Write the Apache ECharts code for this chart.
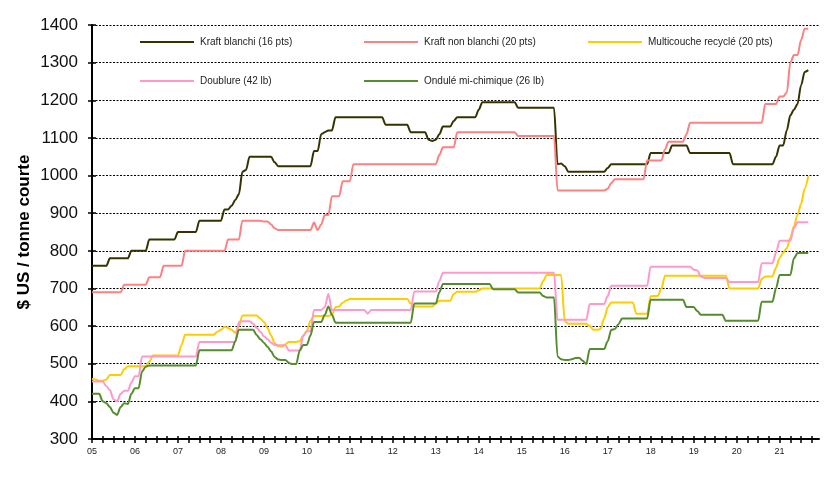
<!DOCTYPE html>
<html>
<head>
<meta charset="utf-8">
<script src="https://cdn.jsdelivr.net/npm/echarts@6/dist/echarts.min.js"></script>
<style>
html,body{margin:0;padding:0;background:#fff;}
#chart{width:830px;height:477px;}
</style>
</head>
<body>
<div id="chart"></div>
<script>
// Year tick labels (January of each year), axis runs Jan 2005 .. Dec 2021 monthly
var yearLabels = ['05','06','07','08','09','10','11','12','13','14','15','16','17','18','19','20','21'];
var seriesNames = ['Kraft blanchi (16 pts)','Kraft non blanchi (20 pts)','Multicouche recyclé (20 pts)','Doublure (42 lb)','Ondulé mi-chimique (26 lb)'];

// Monthly prices, $ US / short ton, Jan 2005 .. Sep 2021
var kraftBlanchi = [
 760,760,760,760,760,780,780,780,780,780,780,800,
 800,800,800,800,830,830,830,830,830,830,830,830,
 850,850,850,850,850,850,880,880,880,880,880,880,
 880,910,910,920,935,950,1010,1015,1050,1050,1050,1050,
 1050,1050,1050,1035,1025,1025,1025,1025,1025,1025,1025,1025,
 1025,1025,1065,1065,1110,1115,1120,1120,1155,1155,1155,1155,
 1155,1155,1155,1155,1155,1155,1155,1155,1155,1155,1135,1135,
 1135,1135,1135,1135,1135,1115,1115,1115,1115,1115,1095,1092,
 1095,1110,1130,1130,1130,1145,1155,1155,1155,1155,1155,1155,
 1175,1195,1195,1195,1195,1195,1195,1195,1195,1195,1195,1180,
 1180,1180,1180,1180,1180,1180,1180,1180,1180,1180,1030,1032,
 1025,1010,1010,1010,1010,1010,1010,1010,1010,1010,1010,1010,
 1020,1030,1030,1030,1030,1030,1030,1030,1030,1030,1030,1030,
 1060,1060,1060,1060,1060,1060,1080,1080,1080,1080,1080,1060,
 1060,1060,1060,1060,1060,1060,1060,1060,1060,1060,1060,1030,
 1030,1030,1030,1030,1030,1030,1030,1030,1030,1030,1030,1050,
 1080,1080,1120,1160,1175,1190,1240,1275,1280
];
var kraftNonBlanchi = [
 690,690,690,690,690,690,690,690,690,710,710,710,
 710,710,710,710,730,730,730,730,760,760,760,760,
 760,760,800,800,800,800,800,800,800,800,800,800,
 800,800,830,830,830,830,880,880,880,880,880,880,
 878,878,870,860,855,855,855,855,855,855,855,855,
 855,855,875,855,870,895,895,945,945,945,985,985,
 985,1030,1030,1030,1030,1030,1030,1030,1030,1030,1030,1030,
 1030,1030,1030,1030,1030,1030,1030,1030,1030,1030,1030,1030,
 1030,1055,1075,1075,1075,1075,1115,1115,1115,1115,1115,1115,
 1115,1115,1115,1115,1115,1115,1115,1115,1115,1115,1115,1105,
 1105,1105,1105,1105,1105,1105,1105,1105,1105,1105,960,960,
 960,960,960,960,960,960,960,960,960,960,960,960,
 965,980,990,990,990,990,990,990,990,990,990,1040,
 1040,1040,1040,1040,1070,1090,1090,1090,1090,1090,1110,1140,
 1140,1140,1140,1140,1140,1140,1140,1140,1140,1140,1140,1140,
 1140,1140,1140,1140,1140,1140,1140,1140,1190,1190,1190,1190,
 1210,1210,1220,1300,1320,1320,1360,1390,1390
];
var multicouche = [
 460,458,455,455,458,470,470,470,470,485,493,493,
 493,493,493,493,505,522,522,522,522,522,522,522,
 522,550,577,577,577,577,577,577,577,577,577,585,
 590,598,595,590,582,600,628,628,628,628,628,620,
 611,595,575,555,547,545,552,558,558,558,560,575,
 587,615,627,627,627,627,627,630,650,652,662,668,
 672,672,672,672,672,672,672,672,672,672,672,672,
 672,672,672,672,672,660,652,652,652,652,652,652,
 660,667,667,667,667,685,691,691,691,691,691,691,
 695,700,700,700,700,700,700,700,700,700,700,700,
 700,700,700,700,700,700,720,736,736,736,736,736,
 613,606,606,606,606,606,606,600,590,590,592,620,
 650,663,663,663,663,663,663,663,633,633,633,633,
 679,680,680,700,734,734,734,734,734,734,734,734,
 734,734,734,734,734,734,734,734,734,734,700,700,
 700,700,700,700,700,700,700,725,732,732,732,755,
 781,795,807,835,865,896,925,965,998
];
var doublure = [
 453,453,453,453,440,430,405,400,420,428,428,450,
 467,467,519,519,519,519,519,519,519,519,519,519,
 519,519,519,519,519,519,558,558,558,558,558,558,
 558,558,558,558,558,611,613,613,613,606,595,585,
 573,565,556,550,549,549,549,535,535,535,535,575,
 586,586,643,643,643,650,685,643,643,643,643,643,
 643,643,643,643,643,633,643,643,643,643,643,643,
 643,643,643,643,643,643,692,692,692,692,692,692,
 692,720,742,742,742,742,742,742,742,742,742,742,
 742,742,742,742,742,742,742,742,742,742,742,742,
 742,742,742,742,742,742,742,742,742,742,617,617,
 617,617,617,617,617,617,617,659,659,659,659,659,
 680,707,707,707,707,707,707,707,707,707,707,707,
 758,758,758,758,758,758,758,758,758,758,758,758,
 750,748,732,728,728,728,728,728,728,728,717,717,
 717,717,717,717,717,717,717,767,767,767,767,795,
 827,827,827,827,860,876,876,876,876
];
var ondule = [
 420,420,420,400,395,385,370,364,385,395,393,420,
 435,435,480,492,495,495,495,495,495,495,495,495,
 495,495,495,495,495,495,536,536,536,536,536,536,
 536,536,536,536,560,590,590,590,590,590,576,565,
 556,545,533,518,511,510,510,502,499,499,535,550,
 550,575,611,611,611,630,652,630,609,609,609,609,
 609,609,609,609,609,609,609,609,609,609,609,609,
 609,609,609,609,609,609,660,660,660,660,660,660,
 660,690,712,712,712,712,712,712,712,712,712,712,
 712,712,712,712,698,698,698,698,698,698,698,689,
 689,689,689,689,689,689,680,676,676,676,519,512,
 510,510,512,515,516,508,499,539,539,539,539,539,
 560,590,592,605,620,620,620,620,620,620,620,620,
 670,670,670,670,670,670,670,670,670,670,651,651,
 651,640,630,630,630,630,630,630,630,614,614,614,
 614,614,614,614,614,614,614,665,665,665,665,700,
 736,736,736,736,780,794,794,794,794
];
var colors = ['#333300','#ff8080','#ffcc00','#ff99cc','#548c2f'];
var yMin = 300, yMax = 1400, yStep = 100;

// Monthly categories built from the year labels
var categories = [];
yearLabels.forEach(function(y){ for (var m=1;m<=12;m++){ categories.push(y + '-' + (m<10?'0':'') + m); } });

var allData = [kraftBlanchi, kraftNonBlanchi, multicouche, doublure, ondule];
var font = 'Liberation Sans, Arial, sans-serif';

var chart = echarts.init(document.getElementById('chart'), null, {renderer:'canvas'});

var legendPos = [[135,32],[359,32],[583,32],[135,71],[359,71]];
var legends = seriesNames.map(function(n,i){
  return {
    data:[n], left: legendPos[i][0], top: legendPos[i][1],
    icon:'rect', itemWidth: 54, itemHeight: 2, itemGap: 0,
    textStyle:{fontFamily:font, fontSize:10, color:'#222', padding:[0,0,0,1]},
    selectedMode:false
  };
});

var option = {
  animation:false,
  backgroundColor:'#fff',
  color: colors,
  legend: legends,
  grid:{left:92, right:11, top:25, bottom:38, containLabel:false},
  xAxis:[{
    type:'category', data:categories, boundaryGap:false,
    axisLine:{show:true, lineStyle:{color:'#000', width:2}},
    axisTick:{show:true, interval:2, length:4, lineStyle:{color:'#000', width:1.5}},
    axisLabel:{interval:11, formatter:function(v){return v.slice(0,2);}, fontFamily:font, fontSize:9, color:'#222', margin:8},
    splitLine:{show:false}
  },{
    type:'category', data:categories, boundaryGap:false, position:'bottom',
    axisLine:{show:false},
    axisTick:{show:true, inside:true, interval:2, length:3, lineStyle:{color:'#000', width:1.5}},
    axisLabel:{show:false}, splitLine:{show:false}
  }],
  yAxis:[{
    type:'value', min:yMin, max:yMax, interval:yStep,
    name:'$ US / tonne courte', nameLocation:'middle', nameRotate:90, nameGap:59,
    nameMoveOverlap:false,
    nameTextStyle:{fontFamily:font, fontSize:17, fontWeight:'bold', color:'#000'},
    axisLine:{show:true, lineStyle:{color:'#000', width:2}},
    axisTick:{show:true, length:4, lineStyle:{color:'#000', width:1.5}},
    axisLabel:{fontFamily:font, fontSize:17, color:'#111', margin:14, formatter:function(v){return String(v);}},
    splitLine:{show:true, lineStyle:{color:'#000', width:1, type:[2,1.5]}}
  },{
    type:'value', min:yMin, max:yMax, interval:yStep, position:'left',
    axisLine:{show:false}, axisLabel:{show:false}, splitLine:{show:false},
    axisTick:{show:true, inside:true, length:4, lineStyle:{color:'#000', width:1.5}}
  }],
  series: seriesNames.map(function(n,i){
    return {
      name:n, type:'line', data:allData[i], xAxisIndex:0, yAxisIndex:0,
      showSymbol:false, symbol:'none', smooth:0.3, smoothMonotone:'x',
      lineStyle:{width:2, color:colors[i]}, itemStyle:{color:colors[i]},
      z: 3 + i
    };
  })
};
chart.setOption(option);
</script>
</body>
</html>
